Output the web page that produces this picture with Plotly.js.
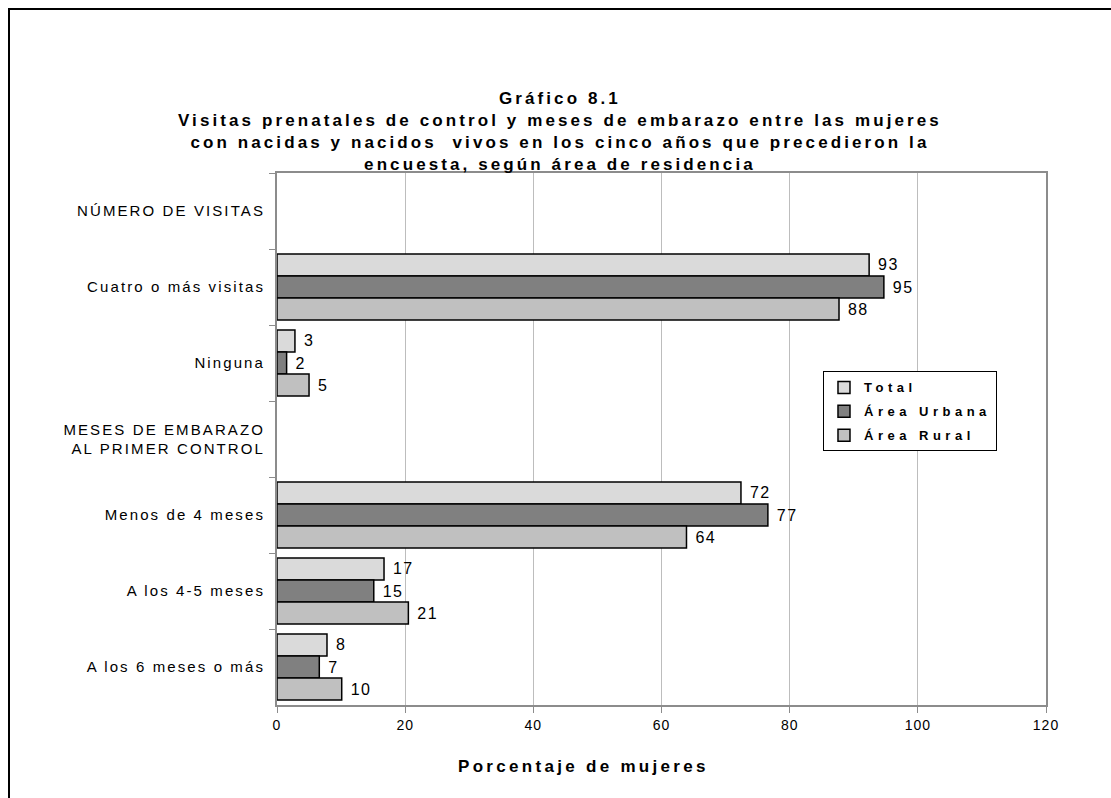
<!DOCTYPE html>
<html>
<head>
<meta charset="utf-8">
<script src="https://cdn.plot.ly/plotly-3.0.1.min.js"></script>
<style>
  html, body { margin: 0; padding: 0; background: #fff; }
  #chart { position: absolute; left: 0; top: 0; width: 1111px; height: 798px; }
  #frame { position: absolute; left: 8px; top: 8px; width: 1200px; height: 900px;
           border-left: 2px solid #000; border-top: 2px solid #000; pointer-events: none; }
  .legendtext { letter-spacing: 4.5px; }
  .gtitle { letter-spacing: 3.1px; }
  .ytick text { letter-spacing: 2.1px; }
  .xtick text { letter-spacing: 1px; }
  .bartext { letter-spacing: 1.5px; }
  .annotation-text { letter-spacing: 3.3px; }
</style>
</head>
<body>
<div id="chart"></div>
<div id="frame"></div>
<script>
const categories = [
  'NÚMERO DE VISITAS',
  'Cuatro o más visitas',
  'Ninguna',
  'MESES DE EMBARAZO<br>AL PRIMER CONTROL',
  'Menos de 4 meses',
  'A los 4-5 meses',
  'A los 6 meses o más'
];
const seriesNames = ['Total', 'Área Urbana', 'Área Rural'];
const totalValues  = [null, 92.4, 2.8, null, 72.4, 16.7, 7.8];
const urbanaValues = [null, 94.7, 1.5, null, 76.6, 15.1, 6.6];
const ruralValues  = [null, 87.7, 5.0, null, 63.9, 20.5, 10.1];
const totalLabels  = ['', '93', '3', '', '72', '17', '8'];
const urbanaLabels = ['', '95', '2', '', '77', '15', '7'];
const ruralLabels  = ['', '88', '5', '', '64', '21', '10'];
const xTicks = [0, 20, 40, 60, 80, 100, 120];
const colors = ['#DADADA', '#808080', '#C0C0C0'];

const valueSets = [totalValues, urbanaValues, ruralValues];
const labelSets = [totalLabels, urbanaLabels, ruralLabels];

const traces = seriesNames.map((name, i) => ({
  type: 'bar',
  orientation: 'h',
  name: name,
  legendgroup: 'g' + i,
  y: categories,
  x: valueSets[i],
  text: labelSets[i],
  texttemplate: '\u00a0%{text}',
  textposition: 'outside',
  cliponaxis: false,
  constraintext: 'none',
  textfont: { family: 'Arial, Liberation Sans, sans-serif', size: 16, color: '#000' },
  marker: { color: colors[i], line: { color: '#000', width: 1.5 } },
  hoverinfo: 'none'
}));

const layout = {
  width: 1111,
  height: 798,
  margin: { l: 277, r: 65, t: 173, b: 93 },
  paper_bgcolor: '#fff',
  plot_bgcolor: '#fff',
  font: { family: 'Arial, Liberation Sans, sans-serif', color: '#000' },
  barmode: 'group',
  bargap: 0.13,
  bargroupgap: 0,
  showlegend: true,
  title: {
    text: '<b>Gráfico 8.1<br>Visitas prenatales de control y meses de embarazo entre las mujeres<br>con nacidas y nacidos  vivos en los cinco años que precedieron la<br>encuesta, según área de residencia</b>',
    font: { family: 'Arial, Liberation Sans, sans-serif', size: 17, color: '#000' },
    x: 0.504, xanchor: 'center',
    y: 0.87, yanchor: 'top', yref: 'container'
  },
  xaxis: {
    range: [0, 120],
    tickvals: xTicks,
    ticktext: xTicks.map(String),
    showgrid: true,
    gridcolor: '#BDBDBD',
    gridwidth: 1,
    zeroline: false,
    showline: true,
    linecolor: '#8C8C8C',
    linewidth: 2,
    mirror: true,
    ticks: 'outside',
    ticklen: 6,
    tickcolor: '#8C8C8C',
    tickfont: { size: 14, color: '#000' },
    fixedrange: true
  },
  yaxis: {
    type: 'category',
    autorange: 'reversed',
    showgrid: false,
    zeroline: false,
    showline: true,
    linecolor: '#8C8C8C',
    linewidth: 2,
    mirror: true,
    ticks: 'outside',
    tickson: 'boundaries',
    ticklen: 6,
    tickcolor: '#8C8C8C',
    ticklabelstandoff: 7,
    tickfont: { size: 15, color: '#000' },
    fixedrange: true
  },
  legend: {
    x: 0.71, xanchor: 'left',
    y: 0.627, yanchor: 'top',
    bgcolor: '#fff',
    bordercolor: '#000',
    borderwidth: 1,
    traceorder: 'grouped',
    tracegroupgap: 4,
    itemwidth: 30,
    font: { family: 'Arial, Liberation Sans, sans-serif', size: 13, color: '#000', weight: 'bold' }
  },
  annotations: [{
    text: '<b>Porcentaje de mujeres</b>',
    xref: 'paper', yref: 'paper',
    x: 0.398, y: -0.115,
    xanchor: 'center', yanchor: 'middle',
    showarrow: false,
    font: { family: 'Arial, Liberation Sans, sans-serif', size: 17, color: '#000' }
  }]
};

Plotly.newPlot('chart', traces, layout, { displayModeBar: false, staticPlot: true });
</script>
</body>
</html>
